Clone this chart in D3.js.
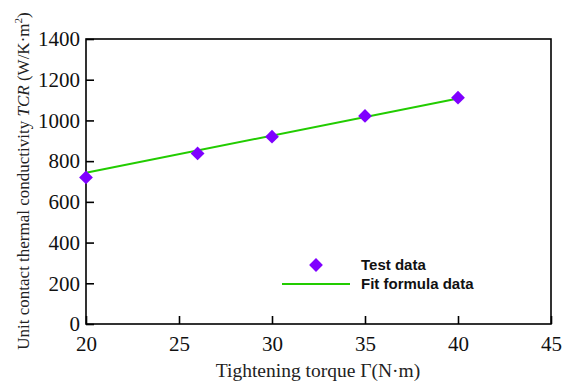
<!DOCTYPE html>
<html><head><meta charset="utf-8">
<script src="https://cdn.jsdelivr.net/npm/d3@7"></script>
<style>body{margin:0;background:#fff}svg{display:block}</style>
</head><body>
<script>
const torque = [20, 26, 30, 35, 40];
const testData = [720, 838, 920, 1022, 1112];
const fitTorque = [20, 40];
const fitData = [743, 1108];
const xTicks = [20, 25, 30, 35, 40, 45];
const yTicks = [0, 200, 400, 600, 800, 1000, 1200, 1400];

const W = 563, H = 390;
const m = {l: 86, r: 12, t: 39, b: 66};
const svg = d3.select("body").append("svg").attr("width", W).attr("height", H);
const x = d3.scaleLinear().domain([20, 45]).range([m.l, W - m.r]);
const y = d3.scaleLinear().domain([0, 1400]).range([H - m.b, m.t]);

const tickFont = "'Liberation Serif', 'Times New Roman', serif";
const gx = svg.append("g").attr("transform", `translate(0,${H - m.b})`)
  .call(d3.axisBottom(x).tickValues(xTicks).tickFormat(d3.format("d")).tickSize(-8).tickPadding(12));
const gy = svg.append("g").attr("transform", `translate(${m.l},0)`)
  .call(d3.axisLeft(y).tickValues(yTicks).tickFormat(d3.format("d")).tickSize(-8).tickPadding(6));
[gx, gy].forEach(g => {
  g.attr("font-family", tickFont).attr("font-size", 21);
  g.select(".domain").remove();
  g.selectAll("line").attr("stroke", "#000").attr("stroke-width", 1.6);
  g.selectAll("text").style("font-family", tickFont).style("font-size", "21px").attr("fill", "#111");
});
svg.append("rect").attr("x", x(20)).attr("y", y(1400))
  .attr("width", x(45) - x(20)).attr("height", y(0) - y(1400))
  .attr("fill", "none").attr("stroke", "#000").attr("stroke-width", 1.6);

svg.append("path")
  .datum(fitTorque.map((t, i) => [t, fitData[i]]))
  .attr("d", d3.line().x(d => x(d[0])).y(d => y(d[1])))
  .attr("stroke", "#22cc00").attr("stroke-width", 2).attr("fill", "none");

const sym = d3.symbol().type(d3.symbolSquare).size(95);
svg.append("g").selectAll("path").data(torque).join("path")
  .attr("d", sym)
  .attr("transform", (d, i) => `translate(${x(d)},${y(testData[i])}) rotate(45)`)
  .attr("fill", "#7f00ff");

// legend
const lg = svg.append("g").style("font-family", "Arial, 'Liberation Sans', sans-serif")
  .style("font-size", "15px").style("font-weight", "bold").attr("fill", "#111");
lg.append("path").attr("d", sym).attr("transform", "translate(316,265) rotate(45)").attr("fill", "#7f00ff");
lg.append("text").attr("x", 361).attr("y", 270).text("Test data");
lg.append("line").attr("x1", 282).attr("x2", 350).attr("y1", 284).attr("y2", 284)
  .attr("stroke", "#22cc00").attr("stroke-width", 2);
lg.append("text").attr("x", 361).attr("y", 289).text("Fit formula data");

// axis titles
svg.append("text").attr("x", 318).attr("y", 377).attr("text-anchor", "middle")
  .style("font-family", tickFont).style("font-size", "19.5px").attr("fill", "#222")
  .text("Tightening torque Γ(N·m)");
const yl = svg.append("text").attr("transform", "translate(29,181) rotate(-90)")
  .attr("text-anchor", "middle").style("font-family", tickFont).style("font-size", "17px").attr("fill", "#222");
yl.append("tspan").text("Unit contact thermal conductivity ");
yl.append("tspan").style("font-style", "italic").text("TCR");
yl.append("tspan").text(" (W/K·m");
yl.append("tspan").style("font-size", "11px").attr("dy", -7).text("2");
yl.append("tspan").attr("dy", 7).text(")");
</script>
</body></html>
